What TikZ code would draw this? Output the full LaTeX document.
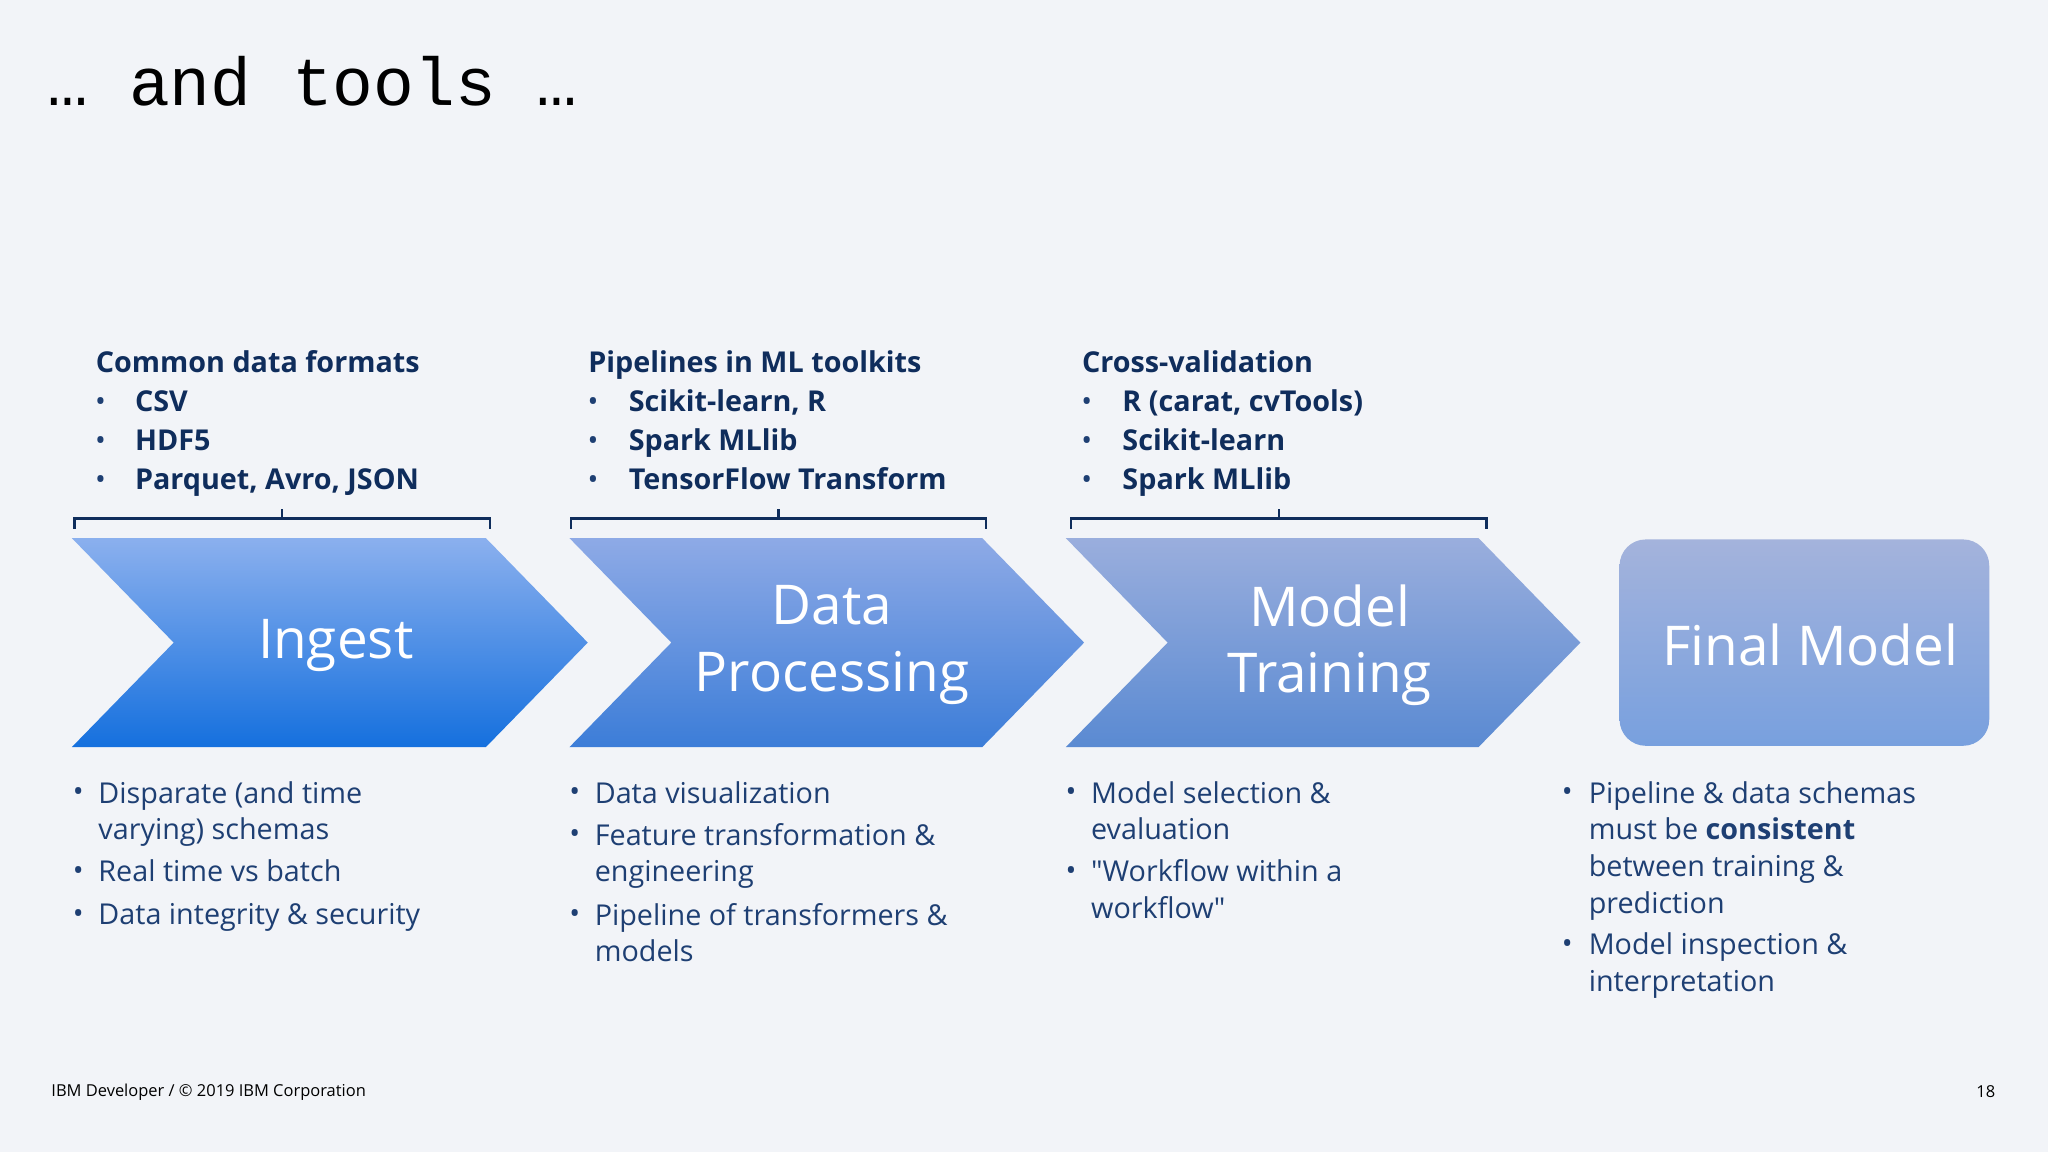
\documentclass[tikz,border=0pt]{standalone}
\usepackage{fontspec}
\setmainfont{Open Sans}
\newfontfamily\monof{Liberation Mono}
\begin{document}
\definecolor{bg}{HTML}{F2F4F8}
\definecolor{navy}{HTML}{0F2D5C}
\definecolor{txt}{HTML}{1E3F73}
\definecolor{aT}{HTML}{8BB0EE}\definecolor{aB}{HTML}{1570DE}
\definecolor{bT}{HTML}{8EAAE6}\definecolor{bB}{HTML}{3C7DD8}
\definecolor{cT}{HTML}{9AAEDD}\definecolor{cB}{HTML}{5A8AD2}
\definecolor{dT}{HTML}{A4B3DC}\definecolor{dB}{HTML}{78A0DE}
\begin{tikzpicture}[x=0.5pt,y=-0.5pt,
  hdr/.style={anchor=base west,font=\fontsize{11}{14}\selectfont\bfseries,text=navy,inner sep=0},
  itm/.style={anchor=north west,font=\fontsize{11}{14}\selectfont,text=txt,inner sep=0,align=left},
  dot/.style={anchor=base,font=\fontsize{11}{14}\selectfont,text=txt,inner sep=0},
  big/.style={font=\fontsize{21}{25.5}\selectfont,text=white,align=center},
  brk/.style={draw=navy,line width=0.9pt}]
\fill[bg] (0,0) rectangle (1568,882);
\useasboundingbox (0,0) rectangle (1568,882);
\node[anchor=west,font=\monof\fontsize{26}{30}\selectfont,text=black,inner sep=0] (title) at (36,62) {… and tools …};
% chevrons
\shade[top color=aT, bottom color=aB] (55,412) -- (372,412) -- (450,492) -- (372,572) -- (55,572) -- (133,492) -- cycle;
\shade[top color=bT, bottom color=bB] (436,412) -- (752,412) -- (830,492) -- (752,572) -- (436,572) -- (514,492) -- cycle;
\shade[top color=cT, bottom color=cB] (816,412) -- (1132,412) -- (1210,492) -- (1132,572) -- (816,572) -- (894,492) -- cycle;
\shade[rounded corners=10pt, top color=dT, bottom color=dB] (1240,413) rectangle (1523,571);
\node[big] (ing) at (257,494) {Ingest};
\node[big] (dp) at (637,494) {Data\\Processing};
\node[big] (mt) at (1018,494) {Model\\Training};
\node[big] (fm) at (1386,494) {Final Model};
% brackets
\foreach \a/\b in {57/375,437/755,820/1138}{
  \draw[brk] (\a,405) -- (\a,397) -- (\b,397) -- (\b,405);
  \draw[brk] ({(\a+\b)/2},397) -- ({(\a+\b)/2},390);
}
% headers (baselines)
\node[hdr] (h1) at (73,285) {Common data formats};
\node[dot] at (77,315) {•}; \node[hdr] at (103,315) {CSV};
\node[dot] at (77,345) {•}; \node[hdr] at (103,345) {HDF5};
\node[dot] at (77,375) {•}; \node[hdr] at (103,375) {Parquet, Avro, JSON};
\node[hdr] (h2) at (450,285) {Pipelines in ML toolkits};
\node[dot] at (454,315) {•}; \node[hdr] at (481,315) {Scikit-learn, R};
\node[dot] at (454,345) {•}; \node[hdr] at (481,345) {Spark MLlib};
\node[dot] at (454,375) {•}; \node[hdr] at (481,375) {TensorFlow Transform};
\node[hdr] (h3) at (828,285) {Cross-validation};
\node[dot] at (832,315) {•}; \node[hdr] at (859,315) {R (carat, cvTools)};
\node[dot] at (832,345) {•}; \node[hdr] at (859,345) {Scikit-learn};
\node[dot] at (832,375) {•}; \node[hdr] at (859,375) {Spark MLlib};
% bottom bullets (dot baseline; text top = baseline-16)
\node[dot] at (60,614) {•}; \node[itm] at (75,598) {Disparate (and time\\varying) schemas};
\node[dot] at (60,674) {•}; \node[itm] at (75,658) {Real time vs batch};
\node[dot] at (60,707) {•}; \node[itm] at (75,691) {Data integrity \& security};
\node[dot] at (440,614) {•}; \node[itm] at (455,598) {Data visualization};
\node[dot] at (440,646) {•}; \node[itm] at (455,630) {Feature transformation \&\\engineering};
\node[dot] at (440,707) {•}; \node[itm] at (455,691) {Pipeline of transformers \&\\models};
\node[dot] at (820,614) {•}; \node[itm] at (835,598) {Model selection \&\\evaluation};
\node[dot] at (820,674) {•}; \node[itm] at (835,658) {\textquotedbl Workflow within a\\workflow\textquotedbl};
\node[dot] at (1200,614) {•}; \node[itm] at (1216,598) {Pipeline \& data schemas\\must be \textbf{consistent}\\between training \&\\prediction};
\node[dot] at (1200,730) {•}; \node[itm] at (1216,714) {Model inspection \&\\interpretation};
% footer
\node[anchor=west,font=\fontsize{6.3}{8}\selectfont,inner sep=0] (ft) at (39,836) {IBM Developer / © 2019 IBM Corporation};
\node[anchor=east,font=\fontsize{6.3}{8}\selectfont,inner sep=0] (pg) at (1528,836) {18};
\end{tikzpicture}
\end{document}
